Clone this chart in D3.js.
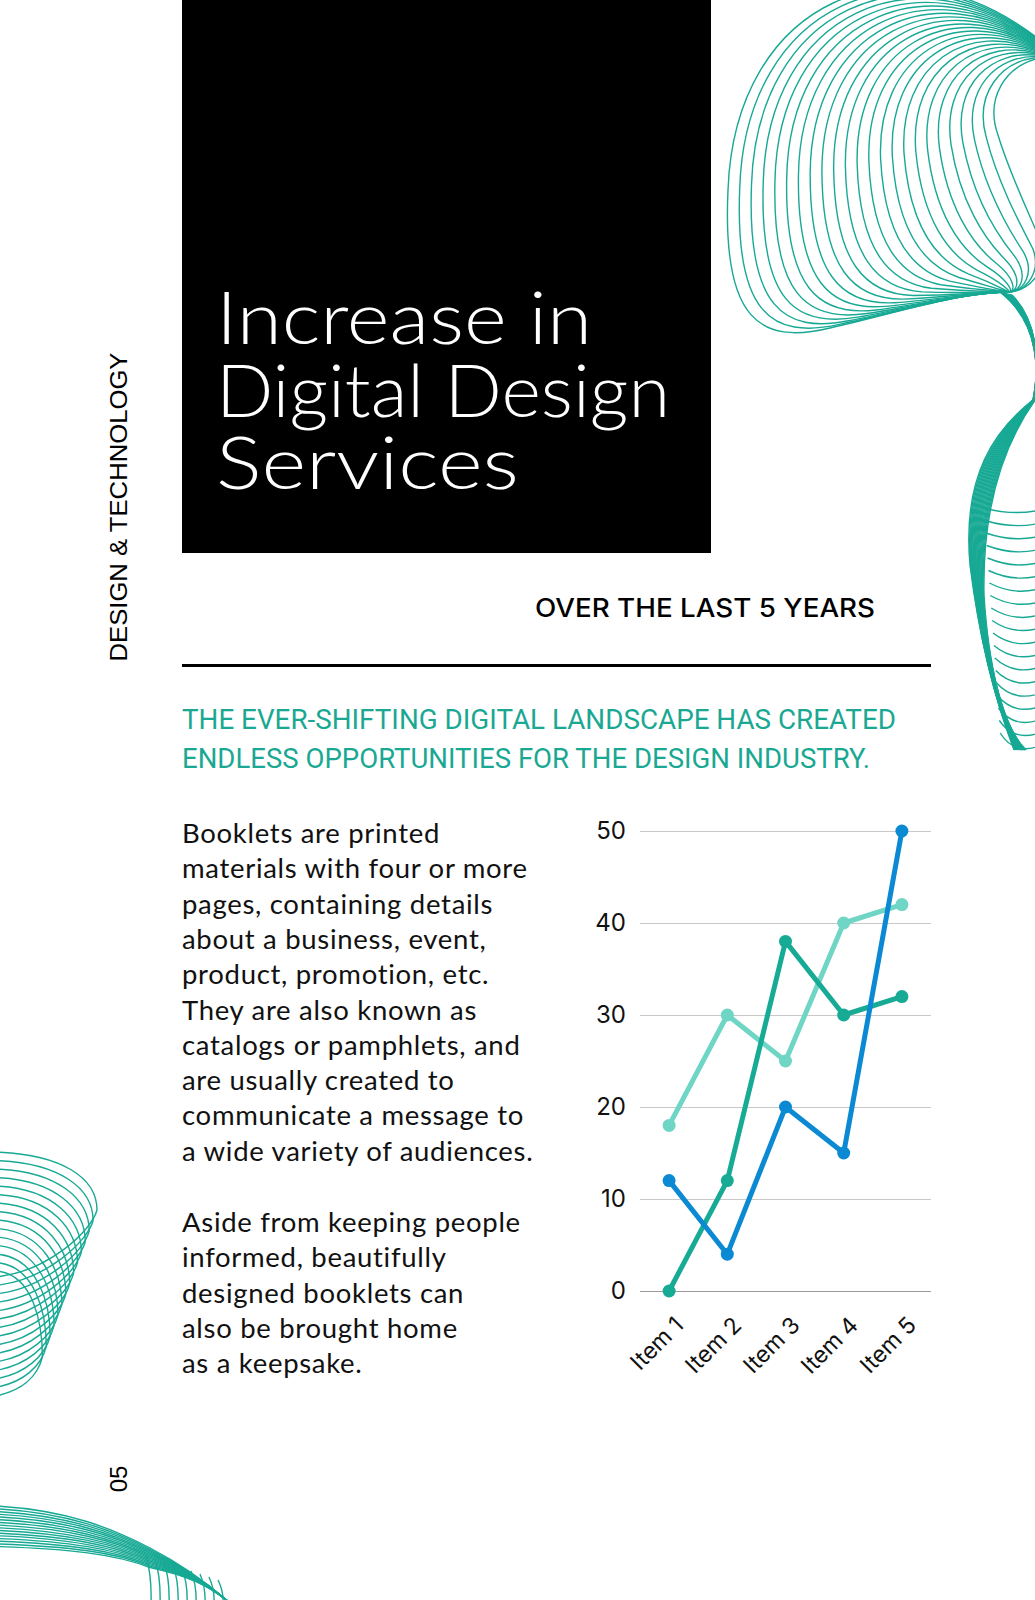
<!DOCTYPE html>
<html>
<head>
<meta charset="utf-8">
<script src="https://cdn.jsdelivr.net/npm/d3@7"></script>
<style>
  body { margin: 0; background: #fff; }
  svg { display: block; }
</style>
</head>
<body>
<div id="page"></div>
<script>

// chart data
const items = ["Item 1", "Item 2", "Item 3", "Item 4", "Item 5"];
const seriesLight = [18, 30, 25, 40, 42];
const seriesTeal = [0, 12, 38, 30, 32];
const seriesBlue = [12, 4, 20, 15, 50];
const yTicks = [0, 10, 20, 30, 40, 50];

// page text
const titleLines = ["Increase in", "Digital Design", "Services"];
const subtitle = "OVER THE LAST 5 YEARS";
const leadLines = ["THE EVER-SHIFTING DIGITAL LANDSCAPE HAS CREATED", "ENDLESS OPPORTUNITIES FOR THE DESIGN INDUSTRY."];
const bodyLines1 = ["Booklets are printed", "materials with four or more", "pages, containing details", "about a business, event,",
  "product, promotion, etc.", "They are also known as", "catalogs or pamphlets, and", "are usually created to",
  "communicate a message to", "a wide variety of audiences."];
const bodyLines2 = ["Aside from keeping people", "informed, beautifully", "designed booklets can", "also be brought home", "as a keepsake."];
const sideLabel = "DESIGN & TECHNOLOGY";
const pageNumber = "05";

const W = 1035, H = 1600;
const deco = "#17a994";

const svg = d3.select("#page").append("svg")
  .attr("width", W)
  .attr("height", H);

// ---------- decorative line bundles ----------
const lerp = (a, b, t) => a + (b - a) * t;
const mixPts = (A, B, t) => A.map((p, i) => [lerp(p[0], B[i][0], t), lerp(p[1], B[i][1], t)]);
const cubicPath = function(p) {
  let s = "M" + p[0];
  for (let i = 1; i < p.length; i += 3) s += "C" + p[i] + " " + p[i + 1] + " " + p[i + 2];
  return s;
};

const decoG = svg.append("g")
  .attr("fill", "none")
  .attr("stroke", deco)
  .attr("stroke-width", 1.4);

// top right loops
const outerLoop = [[1040, 40], [900, -70], [735, 0], [728, 190], [722, 320], [760, 345], [830, 328], [900, 312], [960, 292], [1010, 292]];
const innerLoop = [[1040, 58], [1005, 66], [985, 98], [998, 135], [1010, 175], [1030, 215], [1042, 245], [1048, 270], [1030, 290], [1010, 292]];
d3.range(24).forEach(k => {
  decoG.append("path").attr("d", cubicPath(mixPts(outerLoop, innerLoop, k / 23)));
});

// right side ribbon going down
d3.range(20).forEach(k => {
  const t = k / 19;
  const p = [[1000 + 12 * t, 292 + 3 * t], [1042, 325], [1038, 375], [1033 + 2 * t, 400],
             [995 + 12 * t, 430 + 10 * t], [962 + 20 * t, 475 + 25 * t], [970 + 14 * t, 565 + 30 * t],
             [980 + 8 * t, 645 + 15 * t], [997 + 4 * t, 705 + 20 * t], [1014 + 12 * t, 750]];
  decoG.append("path").attr("d", cubicPath(p));
});
// arcs leaving to the right edge
d3.range(19).forEach(k => {
  const y0 = 508 + k * 12.5;
  const x0 = 984 + k * 0.9;
  decoG.append("path")
    .attr("d", "M" + x0 + "," + y0 + "Q" + (1014) + "," + (y0 + 8 + k * 0.8) + " " + 1040 + "," + (y0 + 2 + k * 0.6));
});

// left middle cone of half-ellipses
d3.range(15).forEach(k => {
  const yt = 1152 + k * 8.5;
  const xe = 97 - k * 3.9;
  const ye = 1210 + k * 10.5;
  const yb = 1262 + k * 8.5;
  const p = [[-5, yt], [62 - k * 2, yt + 2], [xe, ye - 32], [xe, ye],
             [xe - 5, ye + 20], [xe * 0.5, yb + 10], [-5, yb + 15]];
  decoG.append("path").attr("d", cubicPath(p));
});

// bottom left sweep
d3.range(16).forEach(k => {
  const p = [[-5, 1506 + k * 2.7], [70, 1510 + k * 2.6], [115, 1530 + k * 1.6], [150, 1548 + k * 1.3],
             [185, 1566 + k * 0.6], [210, 1585], [232, 1605]];
  decoG.append("path").attr("d", cubicPath(p));
});
d3.range(9).forEach(k => {
  const x0 = 150 + k * 9;
  decoG.append("path")
    .attr("d", "M" + (x0 - 4) + "," + (1556 + k * 3) + "Q" + (x0 + 2) + "," + (1576 + k * 2) + " " + (x0 + 1) + "," + 1605);
});

// ---------- title block ----------
svg.append("rect")
  .attr("x", 182).attr("y", 0)
  .attr("width", 529).attr("height", 553)
  .attr("fill", "#000");

const titleWidths = [376, 454, 303];
svg.append("g").selectAll("text")
  .data(titleLines)
  .join("text")
  .attr("x", 216)
  .attr("y", (d, i) => 344 + i * 72.5)
  .attr("fill", "#fff")
  .style("font-family", "Lato, 'Open Sans', sans-serif")
  .style("font-weight", 300)
  .style("font-size", "73px")
  .attr("textLength", (d, i) => titleWidths[i])
  .attr("lengthAdjust", "spacingAndGlyphs")
  .text(d => d);

svg.append("text")
  .attr("x", 875).attr("y", 617)
  .attr("text-anchor", "end")
  .style("font-family", "Inter, Roboto, sans-serif")
  .style("font-weight", 500)
  .style("font-size", "25px")
  .attr("fill", "#000")
  .attr("textLength", 340)
  .attr("lengthAdjust", "spacingAndGlyphs")
  .text(subtitle);

svg.append("line")
  .attr("x1", 182).attr("x2", 931)
  .attr("y1", 665.5).attr("y2", 665.5)
  .attr("stroke", "#000")
  .attr("stroke-width", 3);

svg.append("g").selectAll("text")
  .data(leadLines)
  .join("text")
  .attr("x", 182)
  .attr("y", (d, i) => 729 + i * 38.5)
  .attr("fill", "#1aa893")
  .style("font-family", "Roboto, sans-serif")
  .style("font-weight", 400)
  .style("font-size", "27.5px")
  .attr("textLength", (d, i) => [714, 688][i])
  .attr("lengthAdjust", "spacingAndGlyphs")
  .text(d => d);

const bodyG = svg.append("g")
  .style("font-family", "Lato, sans-serif")
  .style("font-size", "27.5px")
  .style("letter-spacing", "0.7px")
  .attr("fill", "#111");
bodyG.selectAll("text.p1")
  .data(bodyLines1)
  .join("text")
  .attr("class", "p1")
  .attr("x", 182)
  .attr("y", (d, i) => 843 + i * 35.3)
  .text(d => d);
bodyG.selectAll("text.p2")
  .data(bodyLines2)
  .join("text")
  .attr("class", "p2")
  .attr("x", 182)
  .attr("y", (d, i) => 1232 + i * 35.3)
  .text(d => d);

svg.append("text")
  .attr("transform", "translate(127,507) rotate(-90)")
  .attr("text-anchor", "middle")
  .style("font-family", "'Liberation Sans', Arial, sans-serif")
  .style("font-size", "23.5px")
  .attr("fill", "#000")
  .attr("textLength", 309)
  .attr("lengthAdjust", "spacingAndGlyphs")
  .text(sideLabel);

svg.append("text")
  .attr("transform", "translate(127,1479) rotate(-90)")
  .attr("text-anchor", "middle")
  .style("font-family", "'Liberation Sans', Arial, sans-serif")
  .style("font-size", "24px")
  .attr("fill", "#000")
  .text(pageNumber);

// ---------- line chart ----------
const x = d3.scalePoint().domain(items).range([640, 931]).padding(0.5);
const y = d3.scaleLinear().domain([0, 50]).range([1291, 831]);

const yAxis = svg.append("g")
  .attr("transform", "translate(640,0)")
  .call(d3.axisLeft(y).tickValues(yTicks).tickSize(-291).tickPadding(14));
yAxis.select(".domain").remove();
yAxis.selectAll(".tick line").attr("stroke", d => d === 0 ? "#9a9a9a" : "#c9c9c9").attr("stroke-width", 1.2);
yAxis.selectAll(".tick text")
  .style("font-family", "Inter, sans-serif")
  .style("font-size", "24px")
  .attr("fill", "#111");

svg.append("g").selectAll("text")
  .data(items)
  .join("text")
  .attr("transform", d => "translate(" + (x(d) + 10) + ",1321) rotate(-45)")
  .attr("text-anchor", "end")
  .attr("dy", "0.35em")
  .style("font-family", "Inter, sans-serif")
  .style("font-size", "23px")
  .attr("fill", "#111")
  .text(d => d);

const series = [
  { values: seriesLight, color: "#6fd5c4" },
  { values: seriesTeal, color: "#17ab95" },
  { values: seriesBlue, color: "#0b8ad3" }
];
const line = d3.line()
  .x((d, i) => x(items[i]))
  .y(d => y(d));

series.forEach(s => {
  const g = svg.append("g");
  g.append("path")
    .datum(s.values)
    .attr("fill", "none")
    .attr("stroke", s.color)
    .attr("stroke-width", 5)
    .attr("stroke-linejoin", "round")
    .attr("d", line);
  g.selectAll("circle")
    .data(s.values)
    .join("circle")
    .attr("cx", (d, i) => x(items[i]))
    .attr("cy", d => y(d))
    .attr("r", 6.5)
    .attr("fill", s.color);
});

</script>
</body>
</html>
